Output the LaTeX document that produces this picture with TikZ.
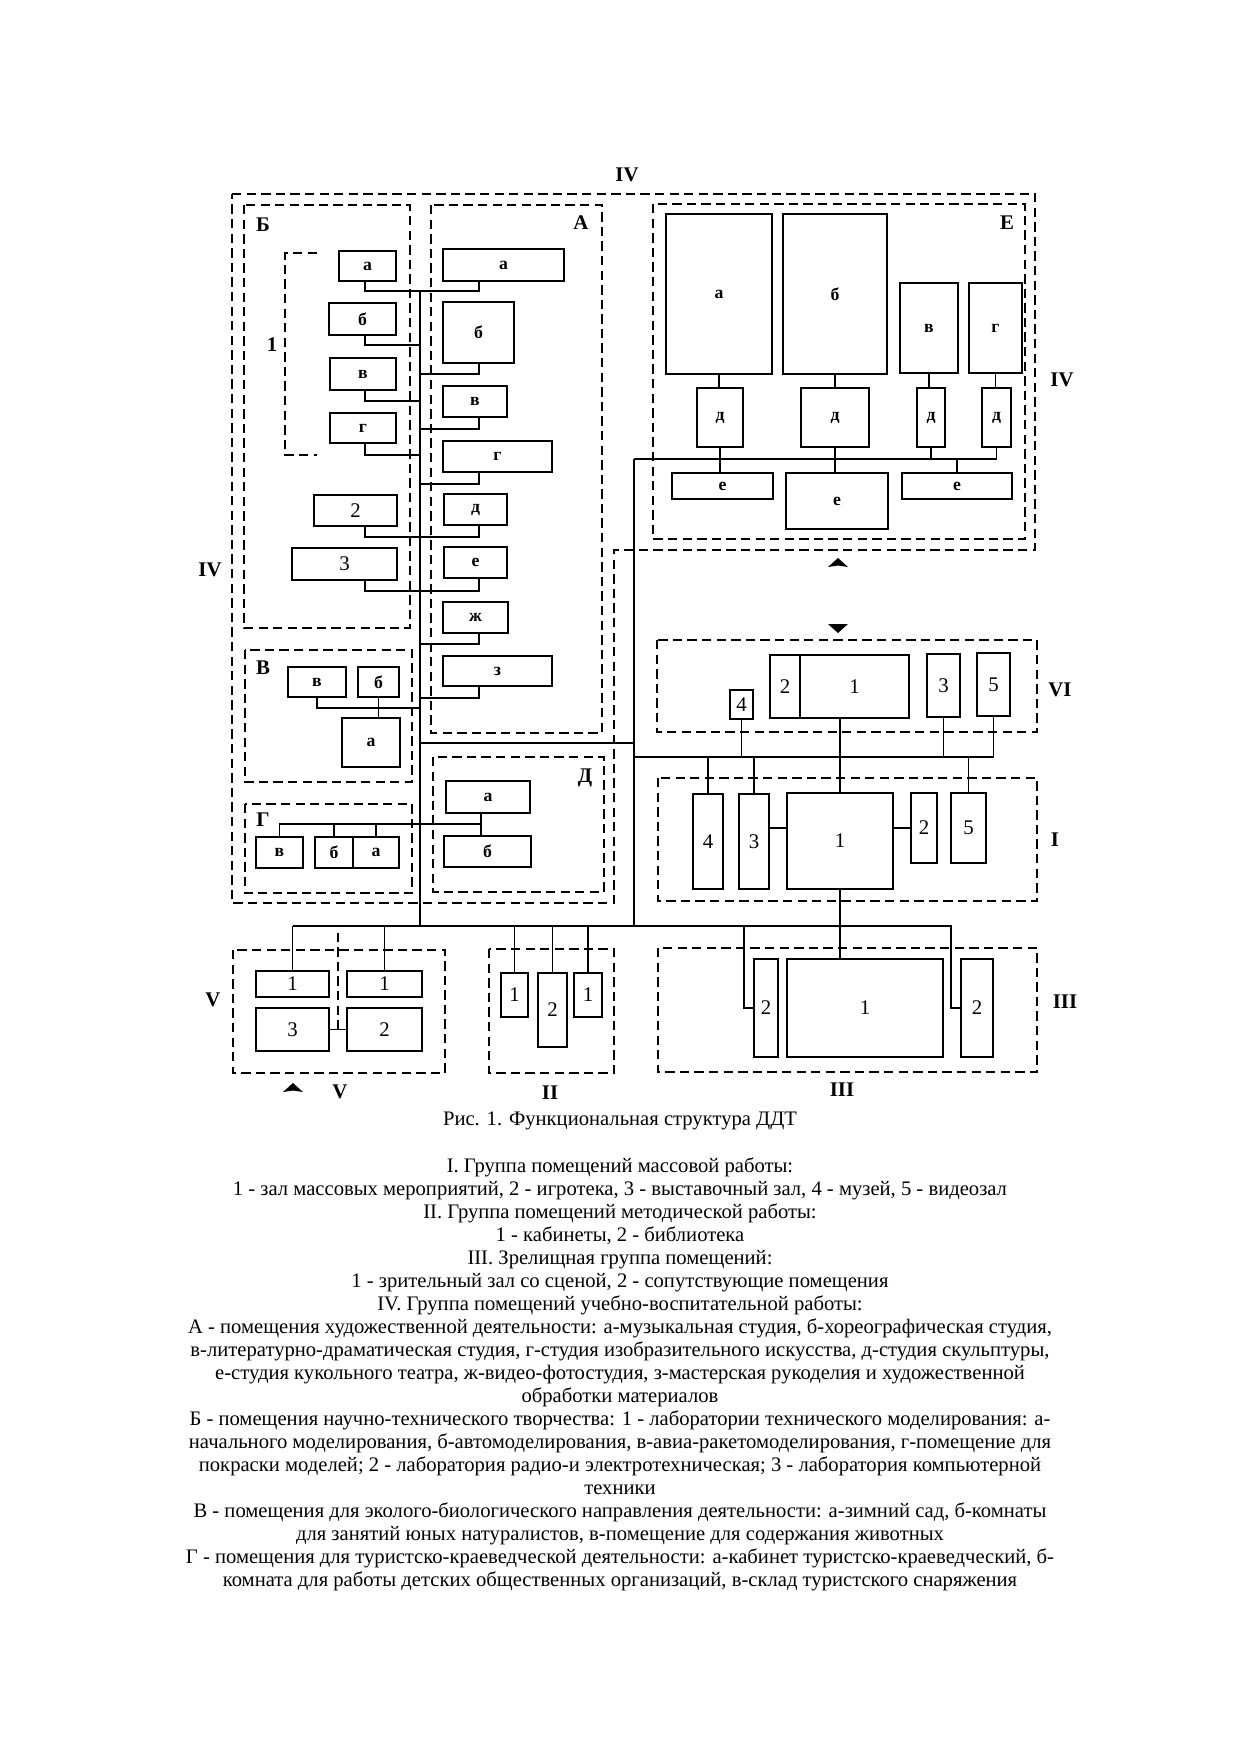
\documentclass[tikz,border=0pt]{standalone}
\usepackage{fontspec}
\setmainfont{Liberation Serif}

\tikzset{every picture/.style={line width=0.9pt}}
\tikzset{room/.style={draw, line width=1.1pt, inner sep=0pt, font=\fontsize{8.5}{9}\selectfont\bfseries}}
\tikzset{numroom/.style={room, font=\fontsize{10}{11}\selectfont}}
\tikzset{zone/.style={dash pattern=on 4.5pt off 2.5pt}}
\tikzset{zone label/.style={inner sep=0pt, font=\fontsize{10}{11}\selectfont\bfseries}}
\tikzset{legend/.style={inner sep=0pt, font=\fontsize{9.9}{11}\selectfont}}
% room box from its corners: [style]{name}{x1}{y1}{x2}{y2}{text}
\newcommand{\room}[7][room]{\node[#1, minimum width={(#5-#3)*0.48pt}, minimum height={(#6-#4)*0.48pt}] (#2) at ({(#3+#5)/2},{(#4+#6)/2}) {#7};}

\begin{document}
\begin{tikzpicture}[x=0.48pt, y=-0.48pt]
    \fill[white] (0,0) rectangle (1240,1755);

    % group outlines
    \draw[zone] (232,194) -- (1035,194) -- (1035,550) -- (614,550) -- (614,903) -- (232,903) -- cycle;
    \draw[zone] (244,205) rectangle (410,628);
    \draw[zone] (317,253) -| (285,455) -- (317,455);
    \draw[zone] (431,205) rectangle (602,733);
    \draw[zone] (245,650) rectangle (412,782);
    \draw[zone] (245,804) rectangle (412,893);
    \draw[zone] (433,757) rectangle (604,892);
    \draw[zone] (653,204) rectangle (1025,539);
    \draw[zone] (657,640) rectangle (1037,732);
    \draw[zone] (658,778) rectangle (1037,901);
    \draw[zone] (233,950) rectangle (445,1073);
    \draw[zone] (489,949) rectangle (614,1073);
    \draw[zone] (658,948) rectangle (1037,1072);

    \node[zone label] (lIVt) at (627,175) {IV};
    \node[zone label] (lIVl) at (210,570) {IV};
    \node[zone label] (lIVr) at (1062,380) {IV};
    \node[zone label] (lB) at (263,225) {Б};
    \node[zone label] (lA) at (581,223) {А};
    \node[zone label] (lB1) at (272,345) {1};
    \node[zone label] (lW) at (263,668) {В};
    \node[zone label] (lG) at (263,820) {Г};
    \node[zone label] (lD) at (585,778) {Д};
    \node[zone label] (lE) at (1007,223) {Е};
    \node[zone label] (lVI) at (1060,690) {VI};
    \node[zone label] (lI) at (1055,840) {I};
    \node[zone label] (lVl) at (213,1000) {V};
    \node[zone label] (lVb) at (340,1092) {V};
    \node[zone label] (lII) at (550,1093) {II};
    \node[zone label] (lIIIr) at (1065,1002) {III};
    \node[zone label] (lIIIb) at (842,1090) {III};

    \fill (828,567) -- (838,558) -- (848,567) -- (838,565.5) -- cycle;
    \fill (828,624) -- (848,624) -- (838,633) -- cycle;
    \fill (283,1092) -- (293,1083) -- (303,1092) -- (293,1090.5) -- cycle;

    % Б
    \room{Ba}{339}{251}{396}{281}{а}
    \room{Bb}{329}{303}{396}{335}{б}
    \room{Bv}{330}{358}{396}{390}{в}
    \room{Bg}{330}{413}{396}{443}{г}
    \room[numroom]{B2}{314}{495}{397}{526}{2}
    \room[numroom]{B3}{292}{548}{397}{580}{3}
    % А
    \room{Aa}{443}{249}{564}{281}{а}
    \room{Ab}{443}{302}{514}{363}{б}
    \room{Av}{443}{386}{507}{417}{в}
    \room{Ag}{443}{441}{552}{472}{г}
    \room{Ad}{444}{494}{507}{525}{д}
    \room{Ae}{444}{547}{507}{578}{е}
    \room{Azh}{443}{602}{508}{633}{ж}
    \room{Az}{443}{656}{552}{686}{з}
    % В
    \room{Wv}{288}{667}{346}{697}{в}
    \room{Wb}{358}{667}{399}{697}{б}
    \room{Wa}{342}{718}{400}{767}{а}
    % Г
    \room{Gv}{256}{837}{303}{868}{в}
    \room{Gb}{315}{837}{353}{868}{б}
    \room{Ga}{353}{837}{399}{868}{а}
    % Д
    \room{Da}{446}{781}{530}{813}{а}
    \room{Db}{444}{836}{531}{867}{б}
    % Е
    \room{Ea}{666}{214}{772}{374}{а}
    \room{Eb}{783}{214}{887}{374}{б}
    \room{Ev}{900}{283}{958}{373}{в}
    \room{Eg}{969}{283}{1022}{373}{г}
    \room{Eda}{697}{388}{743}{447}{д}
    \room{Edb}{801}{388}{869}{447}{д}
    \room{Edv}{917}{388}{945}{447}{д}
    \room{Edg}{982}{388}{1011}{447}{д}
    \room{Eea}{672}{473}{773}{499}{е}
    \room{Eeb}{786}{473}{888}{529}{е}
    \room{Eec}{902}{473}{1012}{499}{е}
    % VI
    \room[numroom]{gVI4}{730}{690}{753}{719}{4}
    \room[numroom]{gVI2}{770}{655}{800}{718}{2}
    \room[numroom]{gVI1}{800}{655}{909}{718}{1}
    \room[numroom]{gVI3}{927}{654}{960}{717}{3}
    \room[numroom]{gVI5}{977}{653}{1010}{716}{5}
    % I
    \room[numroom]{gI4}{693}{794}{723}{889}{4}
    \room[numroom]{gI3}{739}{794}{769}{889}{3}
    \room[numroom]{gI1}{787}{793}{893}{889}{1}
    \room[numroom]{gI2}{911}{793}{937}{863}{2}
    \room[numroom]{gI5}{951}{793}{986}{863}{5}
    % V
    \room[numroom]{gV1a}{256}{971}{329}{997}{1}
    \room[numroom]{gV1b}{347}{971}{422}{997}{1}
    \room[numroom]{gV3}{256}{1008}{329}{1051}{3}
    \room[numroom]{gV2}{347}{1008}{422}{1051}{2}
    % II
    \room[numroom]{gII1a}{501}{973}{528}{1017}{1}
    \room[numroom]{gII2}{538}{973}{567}{1047}{2}
    \room[numroom]{gII1b}{574}{973}{602}{1017}{1}
    % III
    \room[numroom]{gIII2a}{754}{959}{778}{1057}{2}
    \room[numroom]{gIII1}{787}{959}{943}{1057}{1}
    \room[numroom]{gIII2b}{961}{959}{993}{1057}{2}

    \coordinate (bus) at (420,290);
    \coordinate (bl) at (293,926);
    \coordinate (br) at (952,926);
    \coordinate (Bx) at (365,0);
    \coordinate (Ax) at (479,0);
    \coordinate (ej) at (634,459);
    \coordinate (hj) at (634,743);
    \coordinate (sj) at (634,757);
    \coordinate (Dj) at (481,824);

    % main lines
    \draw (bus) -- (bus |- bl);
    \draw (bl) -- (br);
    \draw (hj -| bus) -- (hj);
    \draw (ej) -- (ej |- bl);
    \draw (ej) -| (Edg.south);
    \draw (sj) -| (gVI5.south);

    \draw (Ba.south -| Bx) -- ++(0,9) -| (Aa.south -| Ax);
    \draw (Bb.south -| Bx) -- ++(0,9) -| (bus);
    \draw (Bv.south -| Bx) -- ++(0,10) -| (bus);
    \draw (Bg.south -| Bx) -- ++(0,11) -| (bus);
    \draw (B2.south -| Bx) -- ++(0,10) -| (Ad.south -| Ax);
    \draw (B3.south -| Bx) -- ++(0,10) -| (Ae.south -| Ax);
    \draw (Ab.south -| Ax) -- ++(0,10) -| (bus);
    \draw (Av.south -| Ax) -- ++(0,11) -| (bus);
    \draw (Ag.south -| Ax) -- ++(0,11) -| (bus);
    \draw (Azh.south -| Ax) -- ++(0,10) -| (bus);
    \draw (Az.south -| Ax) -- ++(0,11) -| (bus);

    \draw (Wv.south) -- ++(0,10) -| (bus);
    \draw (Wb.south) -- (Wb.south |- Wa.north);

    \draw (Gv.north) |- (Dj);
    \draw (Gb.north) -- (Gb.north |- Dj);
    \draw (Ga.north) -- (Ga.north |- Dj);
    \draw (Da.south -| Dj) -- (Db.north -| Dj);

    \draw (Ea.south) -- (Ea.south |- Eda.north);
    \draw (Eda.south) -- (Eda.south |- Eea.north);
    \draw (Eb.south) -- (Eb.south |- Edb.north);
    \draw (Edb.south) -- (Edb.south |- Eeb.north);
    \draw (Ev.south) -- (Ev.south |- Edv.north);
    \draw (Edv.south) -- (Edv.south |- ej);
    \draw (Eg.south) -- (Eg.south |- Edg.north);
    \draw (Eec.north) -- (Eec.north |- ej);

    \draw (gVI4.south) -- (gVI4.south |- sj);
    \draw (gVI3.south) -- (gVI3.south |- sj);
    \draw (gVI1.south -| gI1.north) -- (gI1.north);
    \draw (gI4.north) -- (gI4.north |- sj);
    \draw (gI3.north) -- (gI3.north |- sj);
    \draw (gI5.north) -- (gI5.north |- sj);
    \draw (gI3.east |- gI2.west) -- (gI1.west |- gI2.west);
    \draw (gI1.east |- gI2.west) -- (gI2.west);
    \draw (gI1.south) -- (gI1.south |- gIII1.north);

    \draw (gIII2a.west) -- ++(-9,0) |- (br);
    \draw (gIII2b.west) -- ++(-9,0) |- (br);

    \draw (gV1a.north) -- (gV1a.north |- bl);
    \draw (gV1b.north) -- (gV1b.north |- bl);
    \draw (gV3.east) -- node[coordinate] (vm) {} (gV2.west);
    \draw[zone] (vm) -- (vm |- bl);

    \draw (gII1a.north) -- (gII1a.north |- bl);
    \draw (gII2.north) -- (gII2.north |- bl);
    \draw (gII1b.north) -- (gII1b.north |- bl);

    % caption and legend
    \node[legend, anchor=base] (caption) at (620,1125) {Рис. 1. Функциональная структура ДДТ};
    \foreach \txt [count=\i] in {
        {I. Группа помещений массовой работы:},
        {1 - зал массовых мероприятий, 2 - игротека, 3 - выставочный зал, 4 - музей, 5 - видеозал},
        {II. Группа помещений методической работы:},
        {1 - кабинеты, 2 - библиотека},
        {III. Зрелищная группа помещений:},
        {1 - зрительный зал со сценой, 2 - сопутствующие помещения},
        {IV. Группа помещений учебно-воспитательной работы:},
        {А - помещения художественной деятельности: а-музыкальная студия, б-хореографическая студия,},
        {в-литературно-драматическая студия, г-студия изобразительного искусства, д-студия скульптуры,},
        {е-студия кукольного театра, ж-видео-фотостудия, з-мастерская рукоделия и художественной},
        {обработки материалов},
        {Б - помещения научно-технического творчества: 1 - лаборатории технического моделирования: а-},
        {начального моделирования, б-автомоделирования, в-авиа-ракетомоделирования, г-помещение для},
        {покраски моделей; 2 - лаборатория радио-и электротехническая; 3 - лаборатория компьютерной},
        {техники},
        {В - помещения для эколого-биологического направления деятельности: а-зимний сад, б-комнаты},
        {для занятий юных натуралистов, в-помещение для содержания животных},
        {Г - помещения для туристско-краеведческой деятельности: а-кабинет туристско-краеведческий, б-},
        {комната для работы детских общественных организаций, в-склад туристского снаряжения}}
        \node[legend, anchor=base] (line\i) at (620,{1172+23*(\i-1)}) {\txt};
\end{tikzpicture}
\end{document}
